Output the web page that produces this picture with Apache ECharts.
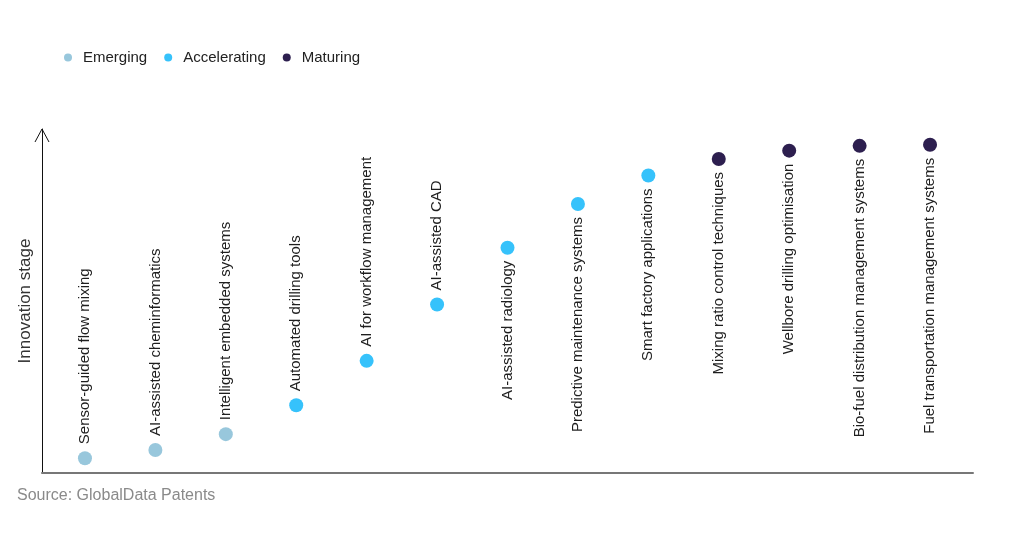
<!DOCTYPE html>
<html>
<head>
<meta charset="utf-8">
<script src="https://cdn.jsdelivr.net/npm/echarts@6/dist/echarts.min.js"></script>
<style>
html,body{margin:0;padding:0;background:#fff;}
#chart{width:1024px;height:538px;}
</style>
</head>
<body>
<div id="chart"></div>
<script>
const categories = [
  'Sensor-guided flow mixing',
  'AI-assisted cheminformatics',
  'Intelligent embedded systems',
  'Automated drilling tools',
  'AI for workflow management',
  'AI-assisted CAD',
  'AI-assisted radiology',
  'Predictive maintenance systems',
  'Smart factory applications',
  'Mixing ratio control techniques',
  'Wellbore drilling optimisation',
  'Bio-fuel distribution management systems',
  'Fuel transportation management systems'
];
const values = [4.3, 6.7, 11.3, 19.7, 32.6, 49.0, 65.5, 78.2, 86.5, 91.3, 93.7, 95.1, 95.4];
const stages = [
  'Emerging', 'Emerging', 'Emerging',
  'Accelerating', 'Accelerating', 'Accelerating', 'Accelerating', 'Accelerating', 'Accelerating',
  'Maturing', 'Maturing', 'Maturing', 'Maturing'
];
const stageNames = ['Emerging', 'Accelerating', 'Maturing'];
const stageColors = ['#98c7dc', '#36c2fb', '#2d1f4f'];
const sourceText = 'Source: GlobalData Patents';
const yAxisName = 'Innovation stage';

const FONT = 'Liberation Sans, Arial, sans-serif';

const labelAbove = {
  show: true, position: 'top', rotate: 90, align: 'left', verticalAlign: 'middle',
  distance: 7, fontSize: 15, color: '#1e1e1e', fontFamily: FONT,
  formatter: p => p.data.name
};
const labelBelow = Object.assign({}, labelAbove, { position: 'bottom', align: 'right', distance: 6 });

const series = stageNames.map((s, si) => ({
  name: s,
  type: 'scatter',
  symbol: 'circle',
  symbolSize: 14,
  itemStyle: { color: stageColors[si], opacity: 1 },
  data: categories.map((c, i) => ({ c, i })).filter(o => stages[o.i] === s).map(o => ({
    name: o.c,
    value: [o.i, values[o.i]],
    label: values[o.i] > 60 ? labelBelow : labelAbove
  })),
  emphasis: { disabled: true }
}));

const chart = echarts.init(document.getElementById('chart'), null, { renderer: 'canvas' });
const sourceGraphic = {
  type: 'text', left: 17, top: 488,
  style: { text: sourceText, fontSize: 16, fill: '#8a8a8a', fontFamily: FONT }
};
const option = {
  animation: false,
  backgroundColor: '#fff',
  textStyle: { fontFamily: FONT },
  legend: {
    left: 59, top: 45,
    itemWidth: 20, itemHeight: 8, itemGap: 17,
    icon: 'circle',
    textStyle: { fontSize: 15, color: '#222', fontFamily: FONT },
    data: stageNames
  },
  grid: { left: 42, right: 51, top: 129, bottom: 65, containLabel: false },
  xAxis: {
    type: 'value', min: -0.61, max: 12.61,
    axisLine: { show: true, onZero: false, lineStyle: { color: '#777', width: 2 } },
    axisTick: { show: false }, axisLabel: { show: false }, splitLine: { show: false }
  },
  yAxis: {
    type: 'value', min: 0, max: 100,
    name: yAxisName, nameLocation: 'middle', nameGap: 8,
    nameTextStyle: { fontSize: 17, color: '#333', fontFamily: FONT },
    axisLine: { show: true, onZero: false, lineStyle: { color: '#111', width: 1 } },
    axisTick: { show: false }, axisLabel: { show: false }, splitLine: { show: false }
  },
  graphic: [sourceGraphic],
  series
};
chart.setOption(option);

// arrow head at the top of the y axis
const tip = chart.convertToPixel({ xAxisIndex: 0, yAxisIndex: 0 }, [-0.61, 100]);
chart.setOption({
  graphic: [
    sourceGraphic,
    {
      type: 'polyline', silent: true, z: 10,
      shape: { points: [[tip[0] - 7, tip[1] + 13], [tip[0], tip[1]], [tip[0] + 7, tip[1] + 13]] },
      style: { stroke: '#111', lineWidth: 1, fill: null }
    }
  ]
});
</script>
</body>
</html>
